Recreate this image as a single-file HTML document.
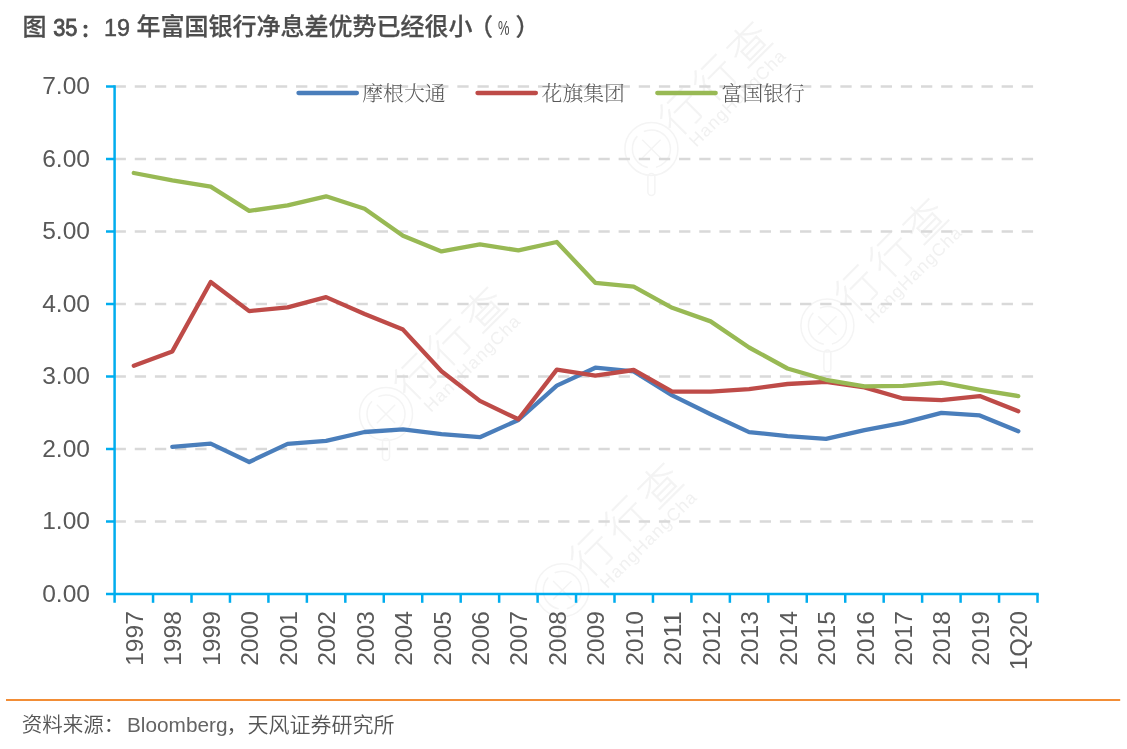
<!DOCTYPE html>
<html lang="zh-CN"><head><meta charset="utf-8"><title>图 35</title>
<style>
html,body{margin:0;padding:0;background:#fff;}
body{width:1127px;height:749px;overflow:hidden;position:relative;}
svg{position:absolute;left:0;top:0;display:block;will-change:transform;}
text{font-family:"Liberation Sans","Noto Sans CJK SC",sans-serif;}
.lg{font-family:"Liberation Serif","Noto Serif CJK SC",serif;font-size:20.8px;fill:#595959;font-weight:300;}
.ax{font-size:23.4px;fill:#595959;}
.tt{font-family:"Liberation Sans","Noto Sans CJK SC Medium","Noto Sans CJK SC",sans-serif;}
.wm{font-family:"Liberation Sans","Noto Sans CJK SC",sans-serif;fill:#f1f1f1;}
</style></head><body>
<svg width="1127" height="749" viewBox="0 0 1127 749">
<rect width="1127" height="749" fill="#fff"/>

<g id="wm">
<g transform="translate(651.4,148.9) rotate(-45)" fill="none" stroke="#f4f4f4" stroke-width="1.5"><circle cx="0" cy="0" r="26.5"/><circle cx="0" cy="0" r="19" stroke-dasharray="40 8"/><path d="M-13,0 L13,0 M0,-13 L0,13"/><rect x="-3.5" y="-3.5" width="7" height="22" rx="3.5" transform="rotate(45) translate(0,28)"/><text class="wm" x="26" y="10.5" font-size="42" font-weight="100" fill="none" stroke="#f4f4f4" stroke-width="0.9" letter-spacing="6">行行查</text><text class="wm" x="32.5" y="31" font-size="17.5" fill="#f7f7f7" stroke="none" letter-spacing="1.2">HangHangCha</text></g>
<g transform="translate(827.4,325.5) rotate(-45)" fill="none" stroke="#f4f4f4" stroke-width="1.5"><circle cx="0" cy="0" r="26.5"/><circle cx="0" cy="0" r="19" stroke-dasharray="40 8"/><path d="M-13,0 L13,0 M0,-13 L0,13"/><rect x="-3.5" y="-3.5" width="7" height="22" rx="3.5" transform="rotate(45) translate(0,28)"/><text class="wm" x="26" y="10.5" font-size="42" font-weight="100" fill="none" stroke="#f4f4f4" stroke-width="0.9" letter-spacing="6">行行查</text><text class="wm" x="32.5" y="31" font-size="17.5" fill="#f7f7f7" stroke="none" letter-spacing="1.2">HangHangCha</text></g>
<g transform="translate(386,414) rotate(-45)" fill="none" stroke="#f4f4f4" stroke-width="1.5"><circle cx="0" cy="0" r="26.5"/><circle cx="0" cy="0" r="19" stroke-dasharray="40 8"/><path d="M-13,0 L13,0 M0,-13 L0,13"/><rect x="-3.5" y="-3.5" width="7" height="22" rx="3.5" transform="rotate(45) translate(0,28)"/><text class="wm" x="26" y="10.5" font-size="42" font-weight="100" fill="none" stroke="#f4f4f4" stroke-width="0.9" letter-spacing="6">行行查</text><text class="wm" x="32.5" y="31" font-size="17.5" fill="#f7f7f7" stroke="none" letter-spacing="1.2">HangHangCha</text></g>
<g transform="translate(562.3,590.2) rotate(-45)" fill="none" stroke="#f4f4f4" stroke-width="1.5"><circle cx="0" cy="0" r="26.5"/><circle cx="0" cy="0" r="19" stroke-dasharray="40 8"/><path d="M-13,0 L13,0 M0,-13 L0,13"/><rect x="-3.5" y="-3.5" width="7" height="22" rx="3.5" transform="rotate(45) translate(0,28)"/><text class="wm" x="26" y="10.5" font-size="42" font-weight="100" fill="none" stroke="#f4f4f4" stroke-width="0.9" letter-spacing="6">行行查</text><text class="wm" x="32.5" y="31" font-size="17.5" fill="#f7f7f7" stroke="none" letter-spacing="1.2">HangHangCha</text></g>
</g>
<g stroke="#D9D9D9" stroke-width="2.5" stroke-dasharray="11.3 8.86" fill="none">
<line x1="114.6" y1="521.50" x2="1037.5" y2="521.50"/>
<line x1="114.6" y1="449.00" x2="1037.5" y2="449.00"/>
<line x1="114.6" y1="376.50" x2="1037.5" y2="376.50"/>
<line x1="114.6" y1="304.00" x2="1037.5" y2="304.00"/>
<line x1="114.6" y1="231.50" x2="1037.5" y2="231.50"/>
<line x1="114.6" y1="159.00" x2="1037.5" y2="159.00"/>
<line x1="114.6" y1="86.50" x2="1037.5" y2="86.50"/>
</g>
<g stroke-width="4.3" stroke-linecap="round" fill="none">
<line x1="298.5" y1="93" x2="356.9" y2="93" stroke="#4A7EBB"/>
<line x1="477.5" y1="93" x2="535.9" y2="93" stroke="#BE4B48"/>
<line x1="657.3" y1="93" x2="715.6999999999999" y2="93" stroke="#98B954"/>
</g>
<text class="lg" x="362.3" y="100.6">摩根大通</text>
<text class="lg" x="541.6" y="100.6">花旗集团</text>
<text class="lg" x="721.6" y="100.6">富国银行</text>
<polyline points="172.3,446.8 210.7,443.6 249.2,462.0 287.6,443.9 326.1,440.8 364.6,432.0 403.0,429.4 441.5,434.1 479.9,437.2 518.4,420.0 556.8,385.6 595.3,367.7 633.7,371.4 672.2,395.4 710.6,414.2 749.1,432.1 787.5,436.1 826.0,438.9 864.5,430.1 902.9,422.9 941.4,412.8 979.8,415.4 1018.3,431.2" fill="none" stroke="#4A7EBB" stroke-width="4.3" stroke-linecap="round" stroke-linejoin="round"/>
<polyline points="133.8,365.8 172.3,351.4 210.7,282.0 249.2,311.1 287.6,307.4 326.1,297.1 364.6,314.0 403.0,329.6 441.5,371.3 479.9,400.9 518.4,419.3 556.8,369.6 595.3,375.6 633.7,370.0 672.2,391.6 710.6,391.7 749.1,389.1 787.5,384.0 826.0,381.9 864.5,387.4 902.9,398.5 941.4,400.1 979.8,396.1 1018.3,411.2" fill="none" stroke="#BE4B48" stroke-width="4.3" stroke-linecap="round" stroke-linejoin="round"/>
<polyline points="133.8,173.0 172.3,180.3 210.7,186.6 249.2,210.9 287.6,205.4 326.1,196.3 364.6,208.7 403.0,235.8 441.5,251.4 479.9,244.3 518.4,250.4 556.8,242.0 595.3,282.8 633.7,286.7 672.2,307.8 710.6,321.4 749.1,347.5 787.5,368.5 826.0,379.8 864.5,386.3 902.9,385.8 941.4,382.7 979.8,389.8 1018.3,396.1" fill="none" stroke="#98B954" stroke-width="4.3" stroke-linecap="round" stroke-linejoin="round"/>
<g stroke="#00ADEE" stroke-width="2.5" fill="none">
<line x1="114.6" y1="85.25" x2="114.6" y2="602.8"/>
<line x1="106.0" y1="594.0" x2="1038.75" y2="594.0"/>
<line x1="106.0" y1="521.50" x2="114.6" y2="521.50"/>
<line x1="106.0" y1="449.00" x2="114.6" y2="449.00"/>
<line x1="106.0" y1="376.50" x2="114.6" y2="376.50"/>
<line x1="106.0" y1="304.00" x2="114.6" y2="304.00"/>
<line x1="106.0" y1="231.50" x2="114.6" y2="231.50"/>
<line x1="106.0" y1="159.00" x2="114.6" y2="159.00"/>
<line x1="106.0" y1="86.50" x2="114.6" y2="86.50"/>
<line x1="153.05" y1="594.0" x2="153.05" y2="602.8"/>
<line x1="191.51" y1="594.0" x2="191.51" y2="602.8"/>
<line x1="229.96" y1="594.0" x2="229.96" y2="602.8"/>
<line x1="268.42" y1="594.0" x2="268.42" y2="602.8"/>
<line x1="306.87" y1="594.0" x2="306.87" y2="602.8"/>
<line x1="345.32" y1="594.0" x2="345.32" y2="602.8"/>
<line x1="383.78" y1="594.0" x2="383.78" y2="602.8"/>
<line x1="422.23" y1="594.0" x2="422.23" y2="602.8"/>
<line x1="460.69" y1="594.0" x2="460.69" y2="602.8"/>
<line x1="499.14" y1="594.0" x2="499.14" y2="602.8"/>
<line x1="537.60" y1="594.0" x2="537.60" y2="602.8"/>
<line x1="576.05" y1="594.0" x2="576.05" y2="602.8"/>
<line x1="614.50" y1="594.0" x2="614.50" y2="602.8"/>
<line x1="652.96" y1="594.0" x2="652.96" y2="602.8"/>
<line x1="691.41" y1="594.0" x2="691.41" y2="602.8"/>
<line x1="729.87" y1="594.0" x2="729.87" y2="602.8"/>
<line x1="768.32" y1="594.0" x2="768.32" y2="602.8"/>
<line x1="806.77" y1="594.0" x2="806.77" y2="602.8"/>
<line x1="845.23" y1="594.0" x2="845.23" y2="602.8"/>
<line x1="883.68" y1="594.0" x2="883.68" y2="602.8"/>
<line x1="922.14" y1="594.0" x2="922.14" y2="602.8"/>
<line x1="960.59" y1="594.0" x2="960.59" y2="602.8"/>
<line x1="999.05" y1="594.0" x2="999.05" y2="602.8"/>
<line x1="1037.50" y1="594.0" x2="1037.50" y2="602.8"/>
</g>
<text class="ax" x="42.2" y="601.6" textLength="47.8" lengthAdjust="spacingAndGlyphs">0.00</text>
<text class="ax" x="42.2" y="529.1" textLength="47.8" lengthAdjust="spacingAndGlyphs">1.00</text>
<text class="ax" x="42.2" y="456.6" textLength="47.8" lengthAdjust="spacingAndGlyphs">2.00</text>
<text class="ax" x="42.2" y="384.1" textLength="47.8" lengthAdjust="spacingAndGlyphs">3.00</text>
<text class="ax" x="42.2" y="311.6" textLength="47.8" lengthAdjust="spacingAndGlyphs">4.00</text>
<text class="ax" x="42.2" y="239.1" textLength="47.8" lengthAdjust="spacingAndGlyphs">5.00</text>
<text class="ax" x="42.2" y="166.6" textLength="47.8" lengthAdjust="spacingAndGlyphs">6.00</text>
<text class="ax" x="42.2" y="94.1" textLength="47.8" lengthAdjust="spacingAndGlyphs">7.00</text>
<text class="ax" transform="translate(142.8,611.2) rotate(-90)" x="-54.6" textLength="54.6" lengthAdjust="spacingAndGlyphs">1997</text>
<text class="ax" transform="translate(181.3,611.2) rotate(-90)" x="-54.6" textLength="54.6" lengthAdjust="spacingAndGlyphs">1998</text>
<text class="ax" transform="translate(219.7,611.2) rotate(-90)" x="-54.6" textLength="54.6" lengthAdjust="spacingAndGlyphs">1999</text>
<text class="ax" transform="translate(258.2,611.2) rotate(-90)" x="-54.6" textLength="54.6" lengthAdjust="spacingAndGlyphs">2000</text>
<text class="ax" transform="translate(296.6,611.2) rotate(-90)" x="-54.6" textLength="54.6" lengthAdjust="spacingAndGlyphs">2001</text>
<text class="ax" transform="translate(335.1,611.2) rotate(-90)" x="-54.6" textLength="54.6" lengthAdjust="spacingAndGlyphs">2002</text>
<text class="ax" transform="translate(373.6,611.2) rotate(-90)" x="-54.6" textLength="54.6" lengthAdjust="spacingAndGlyphs">2003</text>
<text class="ax" transform="translate(412.0,611.2) rotate(-90)" x="-54.6" textLength="54.6" lengthAdjust="spacingAndGlyphs">2004</text>
<text class="ax" transform="translate(450.5,611.2) rotate(-90)" x="-54.6" textLength="54.6" lengthAdjust="spacingAndGlyphs">2005</text>
<text class="ax" transform="translate(488.9,611.2) rotate(-90)" x="-54.6" textLength="54.6" lengthAdjust="spacingAndGlyphs">2006</text>
<text class="ax" transform="translate(527.4,611.2) rotate(-90)" x="-54.6" textLength="54.6" lengthAdjust="spacingAndGlyphs">2007</text>
<text class="ax" transform="translate(565.8,611.2) rotate(-90)" x="-54.6" textLength="54.6" lengthAdjust="spacingAndGlyphs">2008</text>
<text class="ax" transform="translate(604.3,611.2) rotate(-90)" x="-54.6" textLength="54.6" lengthAdjust="spacingAndGlyphs">2009</text>
<text class="ax" transform="translate(642.7,611.2) rotate(-90)" x="-54.6" textLength="54.6" lengthAdjust="spacingAndGlyphs">2010</text>
<text class="ax" transform="translate(681.2,611.2) rotate(-90)" x="-54.6" textLength="54.6" lengthAdjust="spacingAndGlyphs">2011</text>
<text class="ax" transform="translate(719.6,611.2) rotate(-90)" x="-54.6" textLength="54.6" lengthAdjust="spacingAndGlyphs">2012</text>
<text class="ax" transform="translate(758.1,611.2) rotate(-90)" x="-54.6" textLength="54.6" lengthAdjust="spacingAndGlyphs">2013</text>
<text class="ax" transform="translate(796.5,611.2) rotate(-90)" x="-54.6" textLength="54.6" lengthAdjust="spacingAndGlyphs">2014</text>
<text class="ax" transform="translate(835.0,611.2) rotate(-90)" x="-54.6" textLength="54.6" lengthAdjust="spacingAndGlyphs">2015</text>
<text class="ax" transform="translate(873.5,611.2) rotate(-90)" x="-54.6" textLength="54.6" lengthAdjust="spacingAndGlyphs">2016</text>
<text class="ax" transform="translate(911.9,611.2) rotate(-90)" x="-54.6" textLength="54.6" lengthAdjust="spacingAndGlyphs">2017</text>
<text class="ax" transform="translate(950.4,611.2) rotate(-90)" x="-54.6" textLength="54.6" lengthAdjust="spacingAndGlyphs">2018</text>
<text class="ax" transform="translate(988.8,611.2) rotate(-90)" x="-54.6" textLength="54.6" lengthAdjust="spacingAndGlyphs">2019</text>
<text class="ax" transform="translate(1027.3,611.2) rotate(-90)" x="-58.8" textLength="58.8" lengthAdjust="spacingAndGlyphs">1Q20</text>
<text x="22.6" y="35.2" class="tt" font-size="24px" font-weight="500" fill="#4d4d4d" stroke="#4d4d4d" stroke-width="0.25">图</text>
<text x="53.2" y="35.5" font-size="24.4px" fill="#4d4d4d" stroke="#4d4d4d" stroke-width="0.9" textLength="24.2" lengthAdjust="spacingAndGlyphs">35</text>
<text x="81.6" y="35.9" class="tt" font-size="16px" font-weight="500" fill="#4d4d4d" stroke="#4d4d4d" stroke-width="1.4" stroke-linejoin="miter">：</text>
<text x="104" y="35.5" font-size="24.4px" fill="#4d4d4d" stroke="#4d4d4d" stroke-width="0.45" textLength="26" lengthAdjust="spacingAndGlyphs">19</text>
<text x="136.5" y="35.2" class="tt" font-size="24px" font-weight="500" fill="#4d4d4d" stroke="#4d4d4d" stroke-width="0.25">年富国银行净息差优势已经很小</text>
<text x="469" y="35.2" class="tt" font-size="24px" font-weight="500" fill="#4d4d4d" stroke="#4d4d4d" stroke-width="0.25">（</text>
<text x="498" y="34.6" font-size="21px" fill="#4d4d4d" textLength="11.5" lengthAdjust="spacingAndGlyphs">%</text>
<text x="515.5" y="35.2" class="tt" font-size="24px" font-weight="500" fill="#4d4d4d" stroke="#4d4d4d" stroke-width="0.25">）</text>
<line x1="6" y1="699.9" x2="1120.2" y2="699.9" stroke="#F28D36" stroke-width="2"/>
<text x="21.8" y="731.6" font-size="20.5px" font-weight="350" fill="#555">资料来源：</text>
<text x="127" y="731.6" font-size="20.5px" fill="#646464" textLength="100.5" lengthAdjust="spacingAndGlyphs">Bloomberg</text>
<text x="226.5" y="731.6" font-size="21px" font-weight="350" fill="#555">，天风证券研究所</text>
</svg></body></html>
